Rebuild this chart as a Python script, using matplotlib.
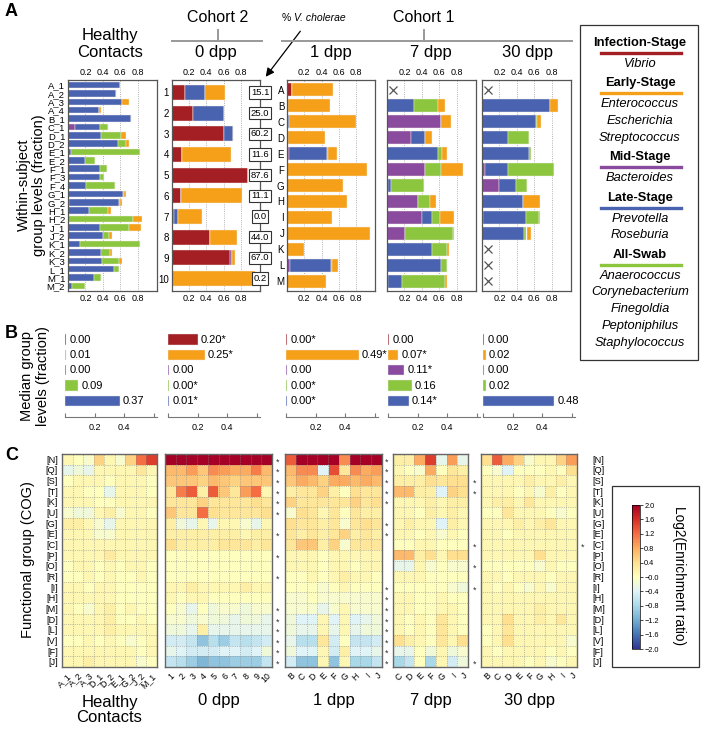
import numpy as np
import matplotlib
matplotlib.use('Agg')
import matplotlib.pyplot as plt
from matplotlib.lines import Line2D
from matplotlib.patches import Rectangle, FancyArrowPatch
from matplotlib.transforms import blended_transform_factory

plt.rcParams['font.family'] = ['Liberation Sans', 'DejaVu Sans']

# ---------------- data: panel A (stacked group levels) ----------------
hc_labels = ['A_1', 'A_2', 'A_3', 'A_4', 'B_1', 'C_1', 'D_1', 'D_2', 'E_1', 'E_2', 'F_1', 'F_3', 'F_4',
             'G_1', 'G_2', 'H_1', 'H_2', 'J_1', 'J_2', 'K_1', 'K_2', 'K_3', 'L_1', 'M_1', 'M_2']
hc_infection = [0] * 25
hc_mid = [0, 0, 0, 0, 0, 0.08, 0, 0, 0, 0, 0, 0, 0, 0, 0.01, 0, 0, 0, 0, 0, 0, 0, 0, 0, 0]
hc_late = [0.60, 0.55, 0.62, 0.35, 0.72, 0.29, 0.38, 0.57, 0.04, 0.195, 0.37, 0.37, 0.21,
           0.63, 0.57, 0.24, 0.0, 0.37, 0.40, 0.14, 0.38, 0.39, 0.53, 0.295, 0.045]
hc_allswab = [0, 0, 0, 0, 0, 0.09, 0.23, 0.095, 0.79, 0.115, 0.08, 0.04, 0.325,
              0.01, 0.02, 0.22, 0.74, 0.33, 0.07, 0.68, 0.105, 0.19, 0.06, 0.085, 0.145]
hc_early = [0, 0, 0.08, 0.03, 0, 0, 0.06, 0.035, 0, 0, 0, 0, 0,
            0.03, 0.02, 0.03, 0.11, 0.14, 0.035, 0, 0.02, 0.035, 0, 0, 0]

d0_labels = ['1', '2', '3', '4', '5', '6', '7', '8', '9', '10']
d0_infection = [0.151, 0.25, 0.602, 0.116, 0.876, 0.111, 0.0, 0.44, 0.67, 0.002]
d0_mid = [0, 0, 0, 0, 0, 0, 0.03, 0, 0.03, 0]
d0_late = [0.24, 0.36, 0.11, 0, 0, 0, 0.04, 0, 0, 0]
d0_allswab = [0] * 10
d0_early = [0.22, 0, 0, 0.575, 0, 0.70, 0.285, 0.31, 0.03, 0.955]
vc_pct = [15.1, 25.0, 60.2, 11.6, 87.6, 11.1, 0.0, 44.0, 67.0, 0.2]

c1_labels = ['A', 'B', 'C', 'D', 'E', 'F', 'G', 'H', 'I', 'J', 'K', 'L', 'M']
nan = np.nan
d1_infection = [0.06, 0.01, 0, 0, 0, 0, 0, 0, 0, 0, 0, 0, 0]
d1_mid = [0, 0, 0, 0, 0.025, 0, 0, 0, 0, 0, 0, 0.03, 0]
d1_late = [0, 0, 0.02, 0, 0.44, 0, 0, 0, 0, 0, 0, 0.48, 0]
d1_allswab = [0, 0, 0, 0.015, 0.01, 0, 0, 0, 0, 0, 0, 0.01, 0]
d1_early = [0.47, 0.49, 0.78, 0.425, 0.10, 0.93, 0.65, 0.70, 0.52, 0.96, 0.195, 0.07, 0.455]

d7_infection = [nan, 0, 0, 0, 0, 0, 0, 0, 0, 0, 0, 0, 0]
d7_mid = [nan, 0, 0.615, 0.28, 0, 0.435, 0.015, 0.355, 0.40, 0.21, 0, 0, 0.01]
d7_late = [nan, 0.31, 0, 0.16, 0.59, 0, 0.03, 0, 0.12, 0, 0.51, 0.615, 0.16]
d7_allswab = [nan, 0.27, 0, 0, 0.035, 0.18, 0.375, 0.135, 0.09, 0.545, 0.18, 0.075, 0.49]
d7_early = [nan, 0.08, 0.115, 0.07, 0.065, 0.255, 0, 0.075, 0.155, 0.015, 0.025, 0, 0.03]

d30_infection = [nan, 0, 0, 0, 0, 0, 0, 0, 0, 0, nan, nan, nan]
d30_mid = [nan, 0, 0, 0, 0, 0.04, 0.19, 0, 0.01, 0, nan, nan, nan]
d30_late = [nan, 0.78, 0.62, 0.30, 0.54, 0.26, 0.20, 0.465, 0.49, 0.485, nan, nan, nan]
d30_allswab = [nan, 0, 0.01, 0.24, 0.02, 0.525, 0.13, 0, 0.15, 0.025, nan, nan, nan]
d30_early = [nan, 0.09, 0.05, 0, 0, 0, 0, 0.195, 0.01, 0.055, nan, nan, nan]

# ---------------- data: panel B (median levels) ----------------
# rows: infection, early, mid, all-swab, late
med_hc = [0.00, 0.01, 0.00, 0.09, 0.37]
sig_hc = ['', '', '', '', '']
med_d0 = [0.20, 0.25, 0.00, 0.00, 0.01]
sig_d0 = ['*', '*', '', '*', '*']
med_d1 = [0.00, 0.49, 0.00, 0.00, 0.00]
sig_d1 = ['*', '*', '', '*', '*']
med_d7 = [0.00, 0.07, 0.11, 0.16, 0.14]
sig_d7 = ['', '*', '*', '', '*']
med_d30 = [0.00, 0.02, 0.00, 0.02, 0.48]
sig_d30 = ['', '', '', '', '']

# ---------------- data: panel C (COG enrichment) ----------------
cog = ['[N]', '[Q]', '[S]', '[T]', '[K]', '[U]', '[G]', '[E]', '[C]', '[P]',
       '[O]', '[R]', '[I]', '[H]', '[M]', '[D]', '[L]', '[V]', '[F]', '[J]']
hm_hc_cols = ['A_1', 'A_2', 'A_3', 'D_1', 'D_2', 'E_1', 'G_2', 'J_2', 'M_1']
hm_hc = [
    [0.1, 0.0, -0.1, 0.5, 0.1, -0.1, 0.5, 1.2, 1.5],
    [-0.3, -0.2, -0.3, 0.1, 0.1, 0.1, 0.1, 0.3, 0.1],
    [0.0, 0.1, 0.1, 0.1, 0.0, 0.1, 0.1, 0.1, 0.0],
    [0.1, 0.1, 0.0, 0.0, -0.3, 0.1, 0.1, 0.1, 0.0],
    [0.1, 0.1, 0.1, 0.0, 0.0, 0.1, 0.1, 0.1, 0.1],
    [-0.1, -0.2, -0.2, 0.1, 0.2, -0.1, 0.1, 0.1, 0.0],
    [0.2, 0.2, 0.1, -0.1, -0.3, 0.1, 0.1, 0.1, 0.1],
    [0.1, 0.1, 0.1, -0.1, -0.1, 0.1, 0.1, 0.1, 0.1],
    [0.1, 0.1, 0.1, 0.1, 0.1, 0.1, 0.1, 0.1, 0.1],
    [0.1, 0.1, 0.1, 0.1, 0.25, 0.1, 0.1, 0.1, 0.1],
    [0.0, 0.1, 0.1, 0.0, 0.1, 0.0, 0.1, 0.1, 0.0],
    [0.0, 0.0, 0.1, 0.0, 0.1, 0.0, 0.0, 0.1, 0.0],
    [0.1, 0.1, 0.0, 0.1, 0.1, 0.0, 0.0, 0.0, 0.0],
    [0.1, 0.1, 0.1, 0.1, 0.1, 0.0, 0.0, 0.0, 0.0],
    [0.1, 0.0, -0.1, 0.1, 0.2, 0.0, 0.1, 0.0, 0.0],
    [0.1, 0.1, 0.1, 0.1, 0.2, 0.0, 0.0, 0.1, 0.0],
    [0.1, 0.1, 0.1, 0.1, 0.2, 0.1, 0.1, 0.1, 0.1],
    [0.0, 0.0, 0.1, 0.0, 0.1, 0.0, -0.1, 0.0, 0.1],
    [0.1, 0.1, 0.1, 0.1, 0.1, 0.1, 0.1, 0.0, 0.1],
    [0.1, 0.1, 0.2, 0.1, 0.1, 0.1, 0.1, -0.1, 0.0],
]
hm_d0_cols = ['1', '2', '3', '4', '5', '6', '7', '8', '9', '10']
hm_d0 = [
    [2.0, 2.0, 2.0, 2.0, 2.0, 2.0, 2.0, 2.0, 2.0, 2.0],
    [0.7, 0.7, 0.9, 0.6, 1.0, 0.9, 0.8, 0.8, 1.1, 0.7],
    [0.6, 0.6, 0.6, 0.5, 0.7, 0.6, 0.5, 0.6, 0.6, 0.6],
    [0.3, 1.1, 1.3, 0.2, 1.3, 0.6, 0.3, 0.9, 1.2, 0.1],
    [0.3, 0.3, 0.3, 0.5, 0.3, 0.3, 0.3, 0.3, 0.4, 0.3],
    [0.6, 0.3, 0.3, 1.2, 0.4, 0.3, 0.3, 0.3, 0.3, 0.4],
    [0.2, -0.2, -0.3, 0.1, -0.3, 0.1, 0.1, -0.1, -0.3, 0.1],
    [0.2, 0.2, 0.2, 0.2, 0.2, 0.2, 0.2, 0.1, 0.2, 0.2],
    [0.4, 0.2, 0.2, 0.2, 0.2, 0.3, 0.3, 0.3, 0.2, 0.3],
    [0.0, 0.0, 0.0, 0.0, 0.0, 0.0, 0.0, 0.0, 0.0, 0.0],
    [0.0, 0.0, 0.0, 0.0, 0.0, 0.0, 0.0, 0.0, 0.0, 0.0],
    [0.0, 0.0, 0.0, 0.0, 0.0, 0.0, 0.0, 0.0, 0.0, 0.0],
    [0.1, 0.1, 0.2, 0.1, 0.1, 0.1, 0.1, 0.2, 0.1, 0.1],
    [0.1, 0.0, 0.1, 0.1, 0.0, 0.0, 0.0, 0.0, 0.0, 0.0],
    [0.0, -0.1, -0.3, 0.0, -0.2, -0.1, -0.1, -0.2, -0.1, -0.1],
    [-0.1, -0.1, -0.2, -0.1, -0.2, -0.2, -0.3, -0.2, -0.2, -0.3],
    [-0.2, -0.2, -0.3, 0.2, -0.3, -0.3, -0.3, -0.3, -0.3, -0.3],
    [-0.5, -0.5, -0.6, -1.0, -0.7, -0.9, -0.6, -0.7, -0.6, -0.5],
    [-0.3, -0.4, -0.5, -0.5, -0.5, -0.4, -0.4, -0.5, -0.4, -0.2],
    [-0.6, -0.7, -0.9, -1.1, -1.0, -1.0, -0.9, -0.9, -0.9, -0.6],
]
hm_d1_cols = ['B', 'C', 'D', 'E', 'F', 'G', 'H', 'I', 'J']
hm_d1 = [
    [1.3, 2.0, 2.0, 2.0, 2.0, 1.0, 2.0, 2.0, 2.0],
    [0.7, 1.0, 1.0, -0.4, 1.4, 0.3, 1.0, 0.8, 0.9],
    [0.6, 0.8, 0.7, 0.5, 0.8, 0.8, 0.7, 0.8, 0.7],
    [0.2, 0.3, 0.3, 0.5, 0.2, 0.0, 0.4, 0.3, 0.3],
    [0.5, 0.3, 0.3, 0.3, 0.3, 0.3, 0.5, 0.3, 0.4],
    [-0.1, 0.4, 0.3, 0.1, 0.3, 0.0, 0.3, 0.2, 0.2],
    [0.4, 0.3, 0.3, 0.2, 0.3, -0.1, 0.3, 0.4, 0.3],
    [0.3, 0.2, 0.3, 0.2, 0.3, 0.5, 0.2, 0.3, 0.2],
    [0.3, 0.6, 0.6, 0.2, 0.5, -0.1, 0.3, 0.3, 0.3],
    [0.1, 0.1, 0.1, 0.0, 0.1, 0.1, 0.1, 0.1, 0.1],
    [0.1, 0.1, 0.1, 0.0, 0.1, 0.1, 0.0, 0.1, 0.1],
    [0.0, 0.0, 0.1, 0.0, 0.1, 0.2, 0.1, 0.1, 0.0],
    [0.0, 0.0, 0.0, -0.1, 0.0, 0.1, 0.0, 0.0, 0.0],
    [-0.1, -0.1, 0.0, -0.1, -0.1, -0.1, -0.1, -0.1, -0.1],
    [-0.1, -0.1, -0.1, -0.3, -0.1, 0.1, -0.1, -0.1, -0.1],
    [-0.2, -0.4, -0.4, 0.1, -0.4, 0.1, -0.4, -0.3, -0.2],
    [-0.2, -0.3, -0.3, 0.1, -0.3, 0.1, -0.3, -0.2, -0.2],
    [-0.3, -0.7, -0.7, 0.3, -0.5, 0.0, -0.6, -0.6, -0.5],
    [-0.2, -0.4, -0.4, 0.1, -0.5, 0.2, -0.4, -0.4, -0.3],
    [-0.5, -1.0, -1.0, 0.1, -1.0, 0.1, -0.8, -0.8, -0.6],
]
hm_d7_cols = ['C', 'D', 'E', 'F', 'G', 'I', 'J']
hm_d7 = [
    [0.2, 0.2, 0.8, 1.5, -0.3, 0.9, -0.3],
    [0.1, 0.0, -0.1, 0.8, 0.0, 0.3, 0.2],
    [0.2, 0.2, 0.2, 0.4, 0.3, 0.4, 0.4],
    [0.7, 0.7, 0.2, 0.2, -0.4, 0.5, 0.4],
    [0.1, 0.1, 0.1, 0.2, 0.1, 0.2, 0.2],
    [0.1, 0.1, 0.0, 0.2, 0.1, 0.2, 0.1],
    [0.1, 0.2, 0.1, 0.1, -0.4, 0.2, 0.1],
    [0.1, 0.1, 0.0, 0.1, -0.1, 0.1, 0.0],
    [0.0, 0.0, 0.1, 0.1, 0.0, 0.0, 0.0],
    [0.7, 0.7, 0.2, 0.4, 0.1, 0.4, 0.4],
    [-0.3, -0.3, 0.1, -0.1, 0.0, -0.1, -0.1],
    [0.1, 0.1, 0.1, 0.0, 0.0, 0.0, 0.0],
    [0.0, 0.0, 0.0, 0.0, 0.0, -0.1, -0.2],
    [0.1, 0.1, 0.0, 0.0, 0.1, 0.0, 0.0],
    [0.1, 0.1, 0.0, 0.0, 0.1, 0.1, 0.0],
    [0.1, 0.0, 0.1, 0.0, 0.3, 0.1, 0.0],
    [0.1, 0.0, 0.1, 0.0, 0.3, 0.1, 0.0],
    [0.4, 0.2, 0.1, 0.0, 0.3, 0.1, 0.4],
    [-0.3, -0.3, 0.0, -0.2, 0.1, -0.2, -0.1],
    [-0.8, -0.6, 0.0, -0.8, 0.1, -0.5, -0.2],
]
hm_d30_cols = ['B', 'C', 'D', 'E', 'F', 'G', 'H', 'I', 'J']
hm_d30 = [
    [0.4, 1.3, 0.8, 0.5, -0.1, 0.1, 0.1, 0.5, 0.9],
    [0.0, -0.1, -0.4, 0.0, 0.0, 0.0, 0.1, 0.0, 0.4],
    [0.1, 0.1, 0.1, 0.1, 0.2, 0.1, 0.1, 0.2, 0.1],
    [0.1, 0.1, 0.1, 0.0, 0.1, -0.1, 0.2, 0.0, 0.1],
    [0.1, 0.2, 0.2, 0.1, 0.3, 0.1, 0.1, 0.1, 0.1],
    [0.0, 0.0, 0.3, 0.1, 0.1, 0.1, 0.0, -0.1, 0.0],
    [0.1, 0.1, 0.1, 0.2, 0.1, 0.2, 0.3, 0.1, 0.1],
    [0.1, 0.1, 0.0, 0.1, 0.1, 0.1, 0.1, 0.1, 0.1],
    [0.1, 0.1, 0.1, 0.1, 0.1, 0.1, 0.1, 0.1, 0.1],
    [0.1, 0.1, 0.1, 0.1, 0.1, 0.4, 0.1, 0.1, 0.1],
    [0.0, 0.0, 0.0, 0.0, 0.0, -0.1, 0.1, 0.0, 0.0],
    [0.1, 0.1, 0.0, 0.1, 0.1, 0.1, 0.0, 0.1, 0.1],
    [0.1, 0.0, 0.1, 0.0, -0.1, 0.1, -0.1, 0.1, 0.1],
    [0.1, 0.1, 0.1, 0.1, 0.1, 0.1, 0.1, 0.1, 0.1],
    [0.1, 0.1, 0.1, 0.1, 0.1, 0.2, 0.1, 0.1, 0.1],
    [0.1, 0.1, 0.4, 0.1, 0.1, 0.2, 0.1, 0.3, 0.1],
    [0.0, 0.1, 0.3, 0.1, 0.1, 0.1, 0.1, 0.1, 0.1],
    [0.0, 0.1, 0.4, 0.1, 0.1, 0.1, 0.1, 0.1, -0.1],
    [0.1, 0.0, 0.1, 0.1, 0.1, 0.1, 0.0, 0.1, 0.0],
    [0.1, 0.1, 0.1, 0.1, 0.0, 0.1, -0.1, 0.0, 0.1],
]
stars_d0 = ['[N]', '[Q]', '[S]', '[T]', '[K]', '[U]', '[E]', '[P]', '[R]', '[M]', '[D]', '[L]', '[V]', '[F]', '[J]']
stars_d1 = ['[N]', '[Q]', '[S]', '[T]', '[K]', '[G]', '[E]', '[I]', '[H]', '[M]', '[D]', '[L]', '[V]', '[F]', '[J]']
stars_d7 = ['[S]', '[T]', '[C]', '[O]', '[I]', '[J]']
stars_d30 = ['[C]']

legend_groups = [('Infection-Stage', ['Vibrio']),
                 ('Early-Stage', ['Enterococcus', 'Escherichia', 'Streptococcus']),
                 ('Mid-Stage', ['Bacteroides']),
                 ('Late-Stage', ['Prevotella', 'Roseburia']),
                 ('All-Swab', ['Anaerococcus', 'Corynebacterium', 'Finegoldia', 'Peptoniphilus', 'Staphylococcus'])]

# ---------------- styling ----------------
c_inf, c_early, c_mid, c_late, c_all = '#a31f24', '#f6a01a', '#8a4b9e', '#4a63b0', '#8cc63e'
stack_colors = [c_inf, c_mid, c_late, c_all, c_early]
b_colors = [c_inf, c_early, c_mid, c_all, c_late]
spine_col = '#555555'

W, H = 703, 729
fig = plt.figure(figsize=(W / 100, H / 100), dpi=100)


def rect(l, t, r, b):
    return [l / W, 1 - b / H, (r - l) / W, (b - t) / H]


def fx(x):
    return x / W


def fy(y):
    return 1 - y / H


def stack_panel(l, r, labels, series, bh, show_labels=True, lab_size=7):
    ax = fig.add_axes(rect(l, 80, r, 291))
    n = len(labels)
    y = np.arange(n)
    left = np.zeros(n)
    for vals, col in zip(series, stack_colors):
        v = np.nan_to_num(np.array(vals, float))
        ax.barh(y, v, left=left, height=bh, color=col, edgecolor='#f4f0e8', linewidth=0.3, zorder=2)
        left += v
    missing = np.isnan(np.array(series[2], float))
    for i in np.where(missing)[0]:
        ax.plot(0.07, i, marker='x', color='#555555', ms=6, mew=0.9, zorder=3)
    ax.set_xlim(0, 1.02)
    ax.set_ylim(n - 0.4, -0.6)
    ax.set_xticks([0.2, 0.4, 0.6, 0.8])
    ax.set_xticklabels(['0.2', '0.4', '0.6', '0.8'])
    ax.tick_params(axis='x', top=True, labeltop=True, length=0, labelsize=6.5, pad=2)
    ax.grid(axis='x', linestyle=':', color='#999999', lw=0.6, zorder=0)
    ax.set_axisbelow(True)
    ax.set_yticks(y)
    if show_labels:
        ax.set_yticklabels(labels, fontsize=lab_size)
    else:
        ax.set_yticklabels([])
    ax.tick_params(axis='y', length=0, pad=2)
    for s in ax.spines.values():
        s.set_color(spine_col)
        s.set_linewidth(0.9)
    return ax


# ---------------- panel A ----------------
stack_panel(68, 157, hc_labels, [hc_infection, hc_mid, hc_late, hc_allswab, hc_early], 0.78, lab_size=6.8)
ax0 = stack_panel(171.5, 260, d0_labels, [d0_infection, d0_mid, d0_late, d0_allswab, d0_early], 0.73)
stack_panel(287, 375, c1_labels, [d1_infection, d1_mid, d1_late, d1_allswab, d1_early], 0.8)
stack_panel(387, 476, c1_labels, [d7_infection, d7_mid, d7_late, d7_allswab, d7_early], 0.8, show_labels=False)
stack_panel(482, 571, c1_labels, [d30_infection, d30_mid, d30_late, d30_allswab, d30_early], 0.8, show_labels=False)

tr = blended_transform_factory(ax0.transAxes, ax0.transData)
for i, p in enumerate(vc_pct):
    ax0.text(1.0, i, f'{p:.1f}', transform=tr, ha='center', va='center', fontsize=6.8, zorder=5,
             clip_on=False, bbox=dict(boxstyle='square,pad=0.18', fc='white', ec='#333333', lw=0.8))

fig.text(fx(5), fy(12), 'A', fontsize=13, fontweight='bold', va='center', ha='left')
fig.text(fx(110), fy(44), 'Healthy\nContacts', fontsize=12, ha='center', va='center', linespacing=1.1)
for xc, t in [(216, '0 dpp'), (331, '1 dpp'), (431, '7 dpp'), (527, '30 dpp')]:
    fig.text(fx(xc), fy(53), t, fontsize=12, ha='center', va='center')
fig.text(fx(218), fy(18), 'Cohort 2', fontsize=11.5, ha='center', va='center')
fig.text(fx(424), fy(18), 'Cohort 1', fontsize=11.5, ha='center', va='center')
br = '#999999'
fig.add_artist(Line2D([fx(172), fx(262)], [fy(41), fy(41)], color=br, lw=1.4))
fig.add_artist(Line2D([fx(218), fx(218)], [fy(30), fy(41)], color=br, lw=1.4))
fig.add_artist(Line2D([fx(282), fx(572)], [fy(41), fy(41)], color=br, lw=1.4))
fig.add_artist(Line2D([fx(424), fx(424)], [fy(30), fy(41)], color=br, lw=1.4))
fig.text(fx(282), fy(18), '%', fontsize=7.5, ha='left', va='center')
fig.text(fx(294), fy(18), 'V. cholerae', fontsize=7.5, ha='left', va='center', style='italic')
fig.add_artist(FancyArrowPatch((fx(302), fy(29)), (fx(264), fy(79)), transform=fig.transFigure,
                               arrowstyle='-|>,head_length=5,head_width=2.5', color='black', lw=0.9))
fig.text(fx(31), fy(185), 'Within-subject\ngroup levels (fraction)', rotation=90, fontsize=10.5,
         ha='center', va='center', linespacing=1.1)

# legend box
fig.add_artist(Rectangle((fx(580), fy(360)), (698 - 580) / W, (360 - 25) / H, transform=fig.transFigure,
                         fill=False, ec='#333333', lw=0.9))
leg_colors = [c_inf, c_early, c_mid, c_late, c_all]
ycur = 43
for (head, genera), col in zip(legend_groups, leg_colors):
    fig.text(fx(640), fy(ycur), head, fontsize=9.3, fontweight='bold', ha='center', va='center')
    fig.add_artist(Line2D([fx(601), fx(681)], [fy(ycur + 10), fy(ycur + 10)], color=col, lw=2.4))
    ycur += 21
    for g in genera:
        fig.text(fx(640), fy(ycur), g, fontsize=9.3, style='italic', ha='center', va='center')
        ycur += 16.8
    ycur += 2.5

# ---------------- panel B ----------------
def median_panel(l, r, vals, sig):
    ax = fig.add_axes(rect(l, 332, r, 417))
    y = np.arange(5)
    w = [max(v, 0.01) for v in vals]
    ax.barh(y, w, height=0.68, color=b_colors, edgecolor='#e8e8f0', linewidth=0.3)
    for i, (v, s) in enumerate(zip(vals, sig)):
        ax.text(max(v, 0.01) + 0.02, i, f'{v:.2f}{s}', fontsize=8, va='center', ha='left')
    ax.set_xlim(0, 0.62)
    ax.set_ylim(5.05, -0.5)
    ax.set_xticks([0, 0.2, 0.4, 0.6])
    ax.set_xticklabels(['', '0.2', '0.4', ''])
    ax.tick_params(axis='x', labelsize=6.5, length=3, direction='in', color='#777777', pad=4)
    ax.set_yticks([])
    for k in ['top', 'right', 'left']:
        ax.spines[k].set_visible(False)
    ax.spines['bottom'].set_color('#777777')
    ax.spines['bottom'].set_linewidth(0.8)
    ax.patch.set_alpha(0)


median_panel(65, 157, med_hc, sig_hc)
median_panel(168, 260, med_d0, sig_d0)
median_panel(286, 378, med_d1, sig_d1)
median_panel(388, 480, med_d7, sig_d7)
median_panel(483, 575, med_d30, sig_d30)
fig.text(fx(5), fy(333), 'B', fontsize=13, fontweight='bold', va='center', ha='left')
fig.text(fx(35), fy(376), 'Median group\nlevels (fraction)', rotation=90, fontsize=10.5,
         ha='center', va='center', linespacing=1.1)

# ---------------- panel C ----------------
def heat_panel(l, r, data, cols, stars, star_x, name, left_labels=False, right_labels=False):
    ax = fig.add_axes(rect(l, 454, r, 667))
    arr = np.array(data)
    nr, nc = arr.shape
    im = ax.imshow(arr, cmap='RdYlBu_r', vmin=-2, vmax=2, aspect='auto', interpolation='nearest')
    for k in range(1, nc):
        ax.axvline(k - 0.5, color='#8a8a8a', ls=':', lw=0.5)
    for k in range(1, nr):
        ax.axhline(k - 0.5, color='#8a8a8a', ls=':', lw=0.5)
    ax.set_xticks(range(nc))
    ax.set_xticklabels(cols, rotation=45, ha='right', rotation_mode='anchor', fontsize=6.3)
    ax.tick_params(axis='x', length=0, pad=3)
    ax.set_yticks(range(nr))
    if left_labels:
        ax.set_yticklabels(cog, fontsize=6.6)
        ax.tick_params(axis='y', length=0, pad=3)
    elif right_labels:
        ax.yaxis.tick_right()
        ax.set_yticklabels(cog, fontsize=6.6)
        ax.tick_params(axis='y', length=0, pad=11)
    else:
        ax.set_yticklabels([])
        ax.tick_params(axis='y', length=0)
    for s in ax.spines.values():
        s.set_color('#666666')
        s.set_linewidth(1.0)
    if stars:
        trs = blended_transform_factory(ax.transAxes, ax.transData)
        xa = (star_x - l) / (r - l)
        for lab in stars:
            ax.text(xa, cog.index(lab) + 0.25, '*', transform=trs, fontsize=6.5, ha='center',
                    va='center', color='#333333', clip_on=False)
    fig.text(fx((l + r) / 2), fy(710 if '\n' in name else 701), name, fontsize=12, ha='center',
             va='center', linespacing=1.05)
    return im


heat_panel(62, 157, hm_hc, hm_hc_cols, [], 0, 'Healthy\nContacts', left_labels=True)
heat_panel(165, 272, hm_d0, hm_d0_cols, stars_d0, 278, '0 dpp')
heat_panel(285, 382, hm_d1, hm_d1_cols, stars_d1, 387, '1 dpp')
heat_panel(393, 468, hm_d7, hm_d7_cols, stars_d7, 475, '7 dpp')
im = heat_panel(481, 577, hm_d30, hm_d30_cols, stars_d30, 583, '30 dpp', right_labels=True)
fig.text(fx(5), fy(455), 'C', fontsize=13, fontweight='bold', va='center', ha='left')
fig.text(fx(28), fy(560), 'Functional group (COG)', rotation=90, fontsize=10.5, ha='center', va='center')

fig.add_artist(Rectangle((fx(612), fy(667)), (699 - 612) / W, (667 - 486) / H, transform=fig.transFigure,
                         fill=False, ec='#333333', lw=0.9))
cax = fig.add_axes(rect(632, 505, 640, 649))
cb = fig.colorbar(im, cax=cax, ticks=np.round(np.arange(-2, 2.01, 0.4), 1))
cb.ax.set_yticklabels([f'{t:.1f}'.replace('-', '\u2212') for t in np.round(np.arange(-2, 2.01, 0.4), 1)])
cb.ax.tick_params(labelsize=5.3, length=2, width=0.5, pad=1)
cb.outline.set_linewidth(0.5)
fig.text(fx(679), fy(576), 'Log2(Enrichment ratio)', rotation=270, fontsize=9.8, ha='center', va='center')

fig.savefig('out.png', dpi=100)
